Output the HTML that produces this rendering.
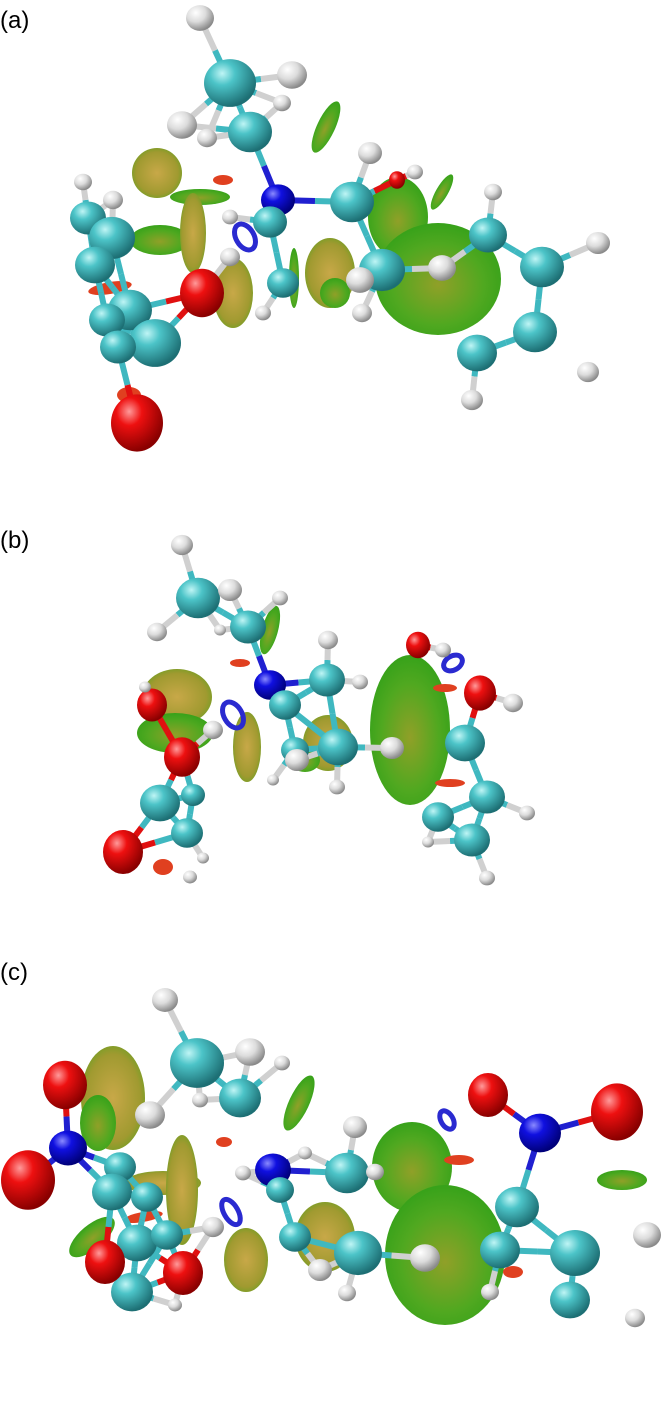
<!DOCTYPE html>
<html><head><meta charset="utf-8">
<style>
html,body{margin:0;padding:0;background:#fff;}
svg{display:block;}
.lbl{font-family:"Liberation Sans",sans-serif;font-size:24px;fill:#000;}
</style></head>
<body>
<svg id="fig" width="670" height="1404" viewBox="0 0 670 1404" xmlns="http://www.w3.org/2000/svg">
<defs>
<radialGradient id="gC" cx="35%" cy="30%" r="70%"><stop offset="0" stop-color="#bff5f5"/><stop offset="0.35" stop-color="#4cc4c8"/><stop offset="1" stop-color="#1d6f74"/></radialGradient>
<radialGradient id="gH" cx="35%" cy="30%" r="70%"><stop offset="0" stop-color="#ffffff"/><stop offset="0.5" stop-color="#dcdcdc"/><stop offset="1" stop-color="#8a8a8a"/></radialGradient>
<radialGradient id="gO" cx="35%" cy="30%" r="70%"><stop offset="0" stop-color="#ff9a9a"/><stop offset="0.35" stop-color="#ee1010"/><stop offset="1" stop-color="#8a0000"/></radialGradient>
<radialGradient id="gN" cx="35%" cy="30%" r="70%"><stop offset="0" stop-color="#8a8aff"/><stop offset="0.35" stop-color="#1010e0"/><stop offset="1" stop-color="#00007a"/></radialGradient>
<radialGradient id="gG" cx="50%" cy="55%" r="60%"><stop offset="0" stop-color="#90a028"/><stop offset="0.6" stop-color="#50a820"/><stop offset="1" stop-color="#30a018"/></radialGradient>
<radialGradient id="gY" cx="50%" cy="50%" r="60%"><stop offset="0" stop-color="#c8a848"/><stop offset="0.7" stop-color="#a09a30"/><stop offset="1" stop-color="#60a020"/></radialGradient>
</defs>
<rect width="670" height="1404" fill="#fff"/>
<text class="lbl" x="0" y="28">(a)</text>
<text class="lbl" x="0" y="548">(b)</text>
<text class="lbl" x="0" y="980">(c)</text>
<g id="layer"></g>
</svg>
<script>
// surfaces: [x,y,rx,ry,rot,fill]
const blobs = [
 [157,173,25,25,0,'gY'],[200,197,30,8,0,'gG'],[160,240,30,15,0,'gG'],[193,233,13,40,0,'gY'],[233,293,20,35,0,'gY'],
 [110,288,22,6,-10,'gO'],[129,395,12,8,0,'gO'],[223,180,10,5,0,'gO'],[294,278,5,30,0,'gG'],[330,273,25,35,0,'gY'],
 [335,293,15,15,0,'gG'],[398,217,30,40,0,'gG'],[438,279,63,56,0,'gG'],[326,127,9,28,25,'gG'],[442,192,6,20,30,'gG'],
 [177,697,35,28,0,'gY'],[175,733,38,20,0,'gG'],[247,747,14,35,0,'gY'],[328,743,25,28,0,'gY'],[410,730,40,75,0,'gG'],
 [270,630,8,25,15,'gG'],[240,663,10,4,0,'gO'],[450,783,15,4,0,'gO'],[445,688,12,4,0,'gO'],[163,867,10,8,0,'gO'],[305,760,15,12,0,'gG'],
 [113,1098,32,52,0,'gY'],[98,1123,18,28,0,'gG'],[163,1183,38,12,0,'gY'],[182,1190,16,55,0,'gY'],[92,1237,28,12,-40,'gG'],
 [143,1217,20,5,-10,'gO'],[224,1142,8,5,0,'gO'],[299,1103,10,30,25,'gG'],[246,1260,22,32,0,'gY'],[325,1237,30,35,0,'gY'],
 [412,1167,40,45,0,'gG'],[445,1255,60,70,0,'gG'],[459,1160,15,5,0,'gO'],[622,1180,25,10,0,'gG'],[513,1272,10,6,0,'gO']
];
// rings (blue NCI discs): [x,y,rx,ry]
const rings = [[245,237,9,14],[233,715,9,14],[453,663,10,7],[231,1212,7,14],[447,1120,6,10]];
// atoms: [x,y,r,type]
const atoms = [
 [200,18,14,'H'],[230,83,26,'C'],[292,75,15,'H'],[282,103,9,'H'],[182,125,15,'H'],[207,138,10,'H'],[250,132,22,'C'],
 [278,200,17,'N'],[230,217,8,'H'],[270,222,17,'C'],[283,283,16,'C'],[263,313,8,'H'],[202,293,22,'O'],[230,257,10,'H'],
 [88,218,18,'C'],[112,238,23,'C'],[95,265,20,'C'],[130,310,22,'C'],[107,320,18,'C'],[155,343,26,'C'],[118,347,18,'C'],
 [83,182,9,'H'],[113,200,10,'H'],[137,423,26,'O'],
 [352,202,22,'C'],[370,153,12,'H'],[397,180,8,'O'],[415,172,8,'H'],[382,270,23,'C'],[442,268,14,'H'],[360,280,14,'H'],[362,313,10,'H'],
 [488,235,19,'C'],[542,267,22,'C'],[535,332,22,'C'],[477,353,20,'C'],[493,192,9,'H'],[598,243,12,'H'],[588,372,11,'H'],[472,400,11,'H'],
 [182,545,11,'H'],[198,598,22,'C'],[230,590,12,'H'],[157,632,10,'H'],[248,627,18,'C'],[280,598,8,'H'],[220,630,6,'H'],
 [270,685,16,'N'],[285,705,16,'C'],[327,680,18,'C'],[328,640,10,'H'],[360,682,8,'H'],[295,750,14,'C'],[338,747,20,'C'],
 [297,760,12,'H'],[392,748,12,'H'],[273,780,6,'H'],[337,787,8,'H'],
 [152,705,15,'O'],[145,687,6,'H'],[182,757,18,'O'],[213,730,10,'H'],[160,803,20,'C'],[187,833,16,'C'],[193,795,12,'C'],
 [123,852,20,'O'],[190,877,7,'H'],[203,858,6,'H'],
 [418,645,12,'O'],[443,650,8,'H'],[480,693,16,'O'],[513,703,10,'H'],[465,743,20,'C'],[487,797,18,'C'],[438,817,16,'C'],
 [472,840,18,'C'],[527,813,8,'H'],[428,842,6,'H'],[487,878,8,'H'],
 [165,1000,13,'H'],[197,1063,27,'C'],[250,1052,15,'H'],[282,1063,8,'H'],[200,1100,8,'H'],[240,1098,21,'C'],[150,1115,15,'H'],
 [273,1170,18,'N'],[305,1153,7,'H'],[243,1173,8,'H'],[280,1190,14,'C'],[347,1173,22,'C'],[355,1127,12,'H'],[375,1172,9,'H'],
 [295,1237,16,'C'],[358,1253,24,'C'],[425,1258,15,'H'],[320,1270,12,'H'],[347,1293,9,'H'],
 [65,1085,22,'O'],[68,1148,19,'N'],[28,1180,27,'O'],[120,1167,16,'C'],[112,1192,20,'C'],[147,1197,16,'C'],[137,1243,20,'C'],
 [167,1235,16,'C'],[213,1227,11,'H'],[183,1273,20,'O'],[175,1305,7,'H'],[132,1292,21,'C'],[105,1262,20,'O'],
 [488,1095,20,'O'],[540,1133,21,'N'],[617,1112,26,'O'],[517,1207,22,'C'],[575,1253,25,'C'],[647,1235,14,'H'],
 [570,1300,20,'C'],[500,1250,20,'C'],[490,1292,9,'H'],[635,1318,10,'H']
];
const fills={C:'url(#gC)',H:'url(#gH)',O:'url(#gO)',N:'url(#gN)',gG:'url(#gG)',gY:'url(#gY)',gO:'#e04020'};
const bondCol={C:'#3fb8c0',H:'#d0d0d0',O:'#e01010',N:'#2020d0'};
const NS='http://www.w3.org/2000/svg';
const layer=document.getElementById('layer');
blobs.forEach(b=>{
 const e=document.createElementNS(NS,'ellipse');
 e.setAttribute('cx',b[0]);e.setAttribute('cy',b[1]);e.setAttribute('rx',b[2]);e.setAttribute('ry',b[3]);
 e.setAttribute('transform','rotate('+b[4]+' '+b[0]+' '+b[1]+')');
 e.setAttribute('fill',fills[b[5]]);
 
 
 layer.appendChild(e);
});
rings.forEach(r=>{
 const e=document.createElementNS(NS,'ellipse');
 e.setAttribute('cx',r[0]);e.setAttribute('cy',r[1]);e.setAttribute('rx',r[2]);e.setAttribute('ry',r[3]);
 e.setAttribute('transform','rotate(-30 '+r[0]+' '+r[1]+')');
 e.setAttribute('fill','none');e.setAttribute('stroke','#2a2ad0');e.setAttribute('stroke-width','5');
 
 
 layer.appendChild(e);
});
// bonds: connect nearby atoms (not H-H)
for(let i=0;i<atoms.length;i++){
 for(let j=i+1;j<atoms.length;j++){
  const a=atoms[i],b=atoms[j];
  if(a[3]==='H'&&b[3]==='H')continue;
  const d=Math.hypot(a[0]-b[0],a[1]-b[1]);
  if(d<(a[2]+b[2])*1.9&&d<80){
   const mx=(a[0]+b[0])/2,my=(a[1]+b[1])/2;
   [[a,mx,my],[b,mx,my]].forEach(s=>{
    const l=document.createElementNS(NS,'line');
    l.setAttribute('x1',s[0][0]);l.setAttribute('y1',s[0][1]);l.setAttribute('x2',s[1]);l.setAttribute('y2',s[2]);
    l.setAttribute('stroke',bondCol[s[0][3]]);l.setAttribute('stroke-width','6');
    
    
    layer.appendChild(l);
   });
  }
 }
}
atoms.forEach(a=>{
 const c=document.createElementNS(NS,'ellipse');
 c.setAttribute('cx',a[0]);c.setAttribute('cy',a[1]);c.setAttribute('rx',a[2]);
 c.setAttribute('ry',a[2]*(a[3]==='O'?1.1:0.92));
 c.setAttribute('fill',fills[a[3]]);
 
 
 layer.appendChild(c);
});
</script>
</body></html>
